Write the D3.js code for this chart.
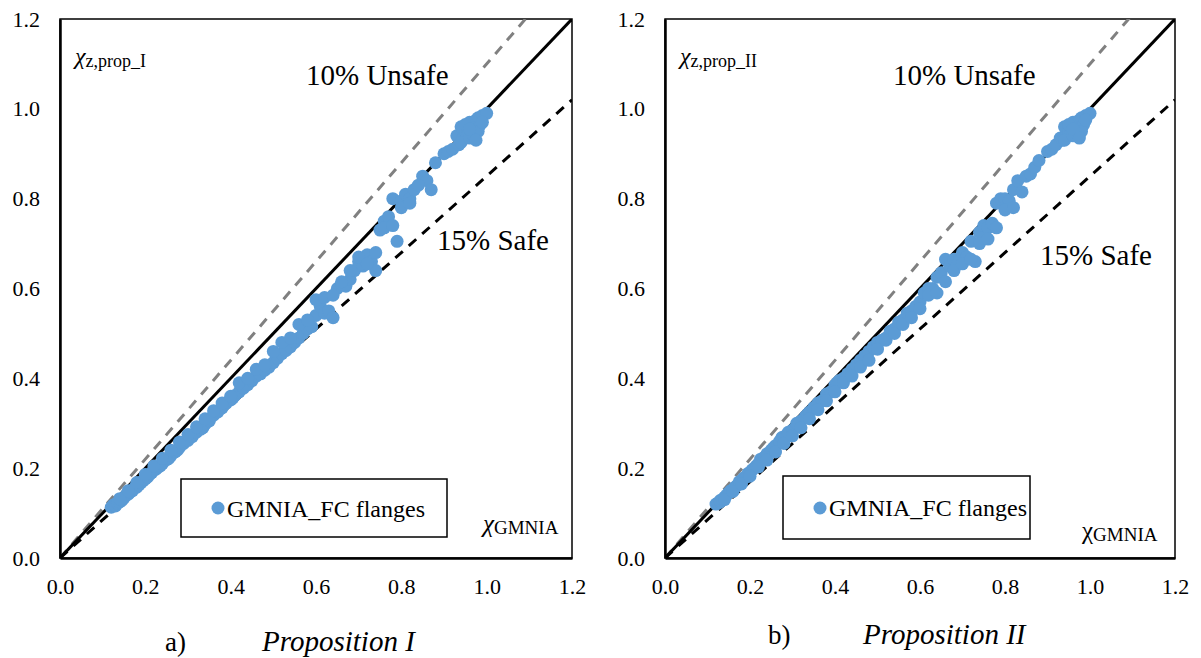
<!DOCTYPE html>
<html>
<head>
<meta charset="utf-8">
<script src="https://cdn.jsdelivr.net/npm/d3@7"></script>
<style>
  body { margin: 0; background: #fff; }
  text { font-family: "Liberation Serif", "Times New Roman", serif; fill: #000; }
</style>
</head>
<body>
<div id="chart"></div>
<script>
// chi_GMNIA values (shared by both panels)
var xGMNIA = [
  0.12,0.125,0.13,0.13,0.135,0.14,0.145,0.15,0.155,0.16,
  0.165,0.17,0.175,0.18,0.185,0.19,0.195,0.20,0.205,0.21,
  0.215,0.22,0.225,0.23,0.235,0.24,0.25,0.255,0.26,0.27,
  0.275,0.28,0.29,0.30,0.31,0.32,0.33,0.335,0.34,0.35,
  0.36,0.37,0.38,0.39,0.40,0.405,0.41,0.42,0.43,0.44,
  0.45,0.46,0.47,0.48,0.49,0.50,0.51,0.52,0.53,0.54,
  0.55,0.56,0.57,0.58,0.59,0.60,0.61,0.62,0.63,0.64,
  0.65,0.66,0.67,0.68,0.69,0.70,0.71,0.72,0.73,0.74,
  0.75,0.76,0.77,0.78,0.79,0.80,0.81,0.82,0.83,0.85,
  0.86,0.87,0.88,0.90,0.91,0.92,0.93,0.935,0.94,0.945,
  0.95,0.955,0.96,0.965,0.97,0.975,0.98,0.985,0.99,1.00,
  0.94,0.95,0.96,0.97,0.98,0.99,0.96,0.975,
  0.14,0.16,0.18,0.20,0.22,0.24,0.26,0.28,0.30,0.32,
  0.34,0.36,0.38,0.40,0.42,0.44,0.46,0.48,0.50,0.52,
  0.54,0.56,0.58,0.60,0.62,0.64,0.66,0.68,0.70,0.72,
  0.74,0.76,0.78,0.80,0.82,0.84
];

// chi_z,prop_I
var yPropI = [
  0.113,0.118,0.12,0.116,0.122,0.125,0.128,0.134,0.14,0.142,
  0.147,0.15,0.156,0.158,0.163,0.168,0.172,0.176,0.18,0.186,
  0.19,0.196,0.198,0.202,0.205,0.21,0.219,0.222,0.228,0.236,
  0.24,0.246,0.255,0.262,0.27,0.28,0.287,0.29,0.298,0.305,
  0.318,0.325,0.334,0.345,0.352,0.356,0.362,0.37,0.378,0.386,
  0.395,0.405,0.41,0.418,0.425,0.435,0.445,0.455,0.462,0.47,
  0.48,0.49,0.50,0.51,0.515,0.54,0.56,0.545,0.55,0.535,
  0.60,0.61,0.605,0.62,0.64,0.66,0.65,0.675,0.66,0.64,
  0.73,0.75,0.76,0.80,0.705,0.795,0.81,0.80,0.82,0.85,
  0.84,0.82,0.88,0.90,0.905,0.91,0.94,0.92,0.96,0.935,
  0.95,0.94,0.97,0.955,0.96,0.975,0.98,0.965,0.985,0.99,
  0.925,0.965,0.935,0.94,0.95,0.97,0.955,0.93,
  0.132,0.15,0.168,0.186,0.205,0.222,0.24,0.258,0.275,0.292,
  0.31,0.328,0.345,0.36,0.39,0.40,0.42,0.43,0.46,0.48,
  0.49,0.52,0.53,0.575,0.58,0.585,0.615,0.64,0.67,0.655,
  0.68,0.735,0.74,0.78,0.79,0.83
];

// chi_z,prop_II
var yPropII = [
  0.12,0.122,0.125,0.128,0.13,0.135,0.14,0.145,0.15,0.152,
  0.158,0.162,0.17,0.172,0.178,0.18,0.188,0.19,0.196,0.2,
  0.205,0.21,0.22,0.218,0.225,0.232,0.24,0.245,0.25,0.26,
  0.268,0.27,0.28,0.285,0.3,0.305,0.315,0.32,0.325,0.335,
  0.345,0.35,0.365,0.37,0.385,0.39,0.395,0.40,0.41,0.42,
  0.43,0.44,0.45,0.46,0.47,0.48,0.485,0.49,0.505,0.51,
  0.525,0.53,0.545,0.55,0.56,0.57,0.59,0.60,0.60,0.625,
  0.635,0.665,0.65,0.665,0.66,0.68,0.67,0.705,0.66,0.725,
  0.74,0.735,0.745,0.79,0.80,0.80,0.795,0.82,0.84,0.85,
  0.855,0.87,0.885,0.905,0.91,0.92,0.935,0.93,0.96,0.94,
  0.95,0.945,0.97,0.96,0.955,0.975,0.98,0.965,0.985,0.99,
  0.93,0.965,0.94,0.945,0.95,0.975,0.955,0.935,
  0.13,0.148,0.165,0.182,0.203,0.218,0.236,0.255,0.272,0.29,
  0.31,0.33,0.35,0.37,0.39,0.405,0.425,0.44,0.465,0.485,
  0.50,0.52,0.535,0.555,0.585,0.59,0.615,0.64,0.655,0.665,
  0.70,0.71,0.735,0.775,0.78,0.815
];

var ticks = [0, 0.2, 0.4, 0.6, 0.8, 1.0, 1.2];
var limitLines = [
  {k: 1.10, color: "#808080", dash: "10,8"},   // 10% unsafe
  {k: 1.00, color: "#000", dash: null},          // y = x
  {k: 0.85, color: "#000", dash: "10,8"}         // 15% safe
];

var W = 1201, H = 658;
var svg = d3.select("#chart").append("svg")
    .attr("width", W)
    .attr("height", H);

var panels = [
  {left: 60, right: 572, ys: yPropI, yLab: "z,prop_I", letter: "a)", title: "Proposition I",
   letterX: 165, titleX: 262, capY: 651, chiItalic: true, chiX: 483, chiY: 534,
   unsafe: [306, 85], safe: [437, 250], legend: [181, 479, 447, 537], legY: 517},
  {left: 665, right: 1175, ys: yPropII, yLab: "z,prop_II", letter: "b)", title: "Proposition II",
   letterX: 768, titleX: 863, capY: 644, chiItalic: false, chiX: 1082, chiY: 541,
   unsafe: [893, 85], safe: [1040, 265], legend: [783, 476, 1030, 539], legY: 516}
];

var plotTop = 19, plotBottom = 558;

panels.forEach(function(p, pi) {
  var x = d3.scaleLinear().domain([0, 1.2]).range([p.left, p.right]);
  var y = d3.scaleLinear().domain([0, 1.2]).range([plotBottom, plotTop]);

  var g = svg.append("g");

  g.append("clipPath").attr("id", "clip" + pi)
    .append("rect")
      .attr("x", p.left).attr("y", plotTop)
      .attr("width", p.right - p.left).attr("height", plotBottom - plotTop);

  // plot frame
  g.append("rect")
      .attr("x", p.left).attr("y", plotTop)
      .attr("width", p.right - p.left).attr("height", plotBottom - plotTop)
      .attr("fill", "none").attr("stroke", "#000").attr("stroke-width", 1.5);

  // limit lines
  g.append("g").attr("clip-path", "url(#clip" + pi + ")")
    .selectAll("line")
    .data(limitLines)
    .join("line")
      .attr("x1", x(0)).attr("y1", y(0))
      .attr("x2", x(1.2)).attr("y2", function(d) { return y(1.2 * d.k); })
      .attr("stroke", function(d) { return d.color; })
      .attr("stroke-width", 3)
      .attr("stroke-dasharray", function(d) { return d.dash; });

  // points
  g.selectAll("circle.pt")
    .data(xGMNIA)
    .join("circle")
      .attr("class", "pt")
      .attr("cx", function(d) { return x(d); })
      .attr("cy", function(d, i) { return y(p.ys[i]); })
      .attr("r", 6.5)
      .attr("fill", "#5B9BD5");

  // axes (labels only)
  var ax = g.append("g")
      .attr("transform", "translate(0," + plotBottom + ")")
      .call(d3.axisBottom(x).tickValues(ticks).tickFormat(d3.format(".1f")).tickSize(0).tickPadding(20));
  var ay = g.append("g")
      .attr("transform", "translate(" + p.left + ",0)")
      .call(d3.axisLeft(y).tickValues(ticks).tickFormat(d3.format(".1f")).tickSize(0).tickPadding(20));
  [ax, ay].forEach(function(a) {
    a.select(".domain").attr("stroke", "#000").attr("stroke-width", 2.5);
    a.selectAll("text").attr("font-family", "Liberation Serif").attr("font-size", 22).attr("fill", "#000");
  });

  // y label
  var yl = g.append("text").attr("x", p.left + 15).attr("y", 64).attr("font-size", 24);
  yl.append("tspan").attr("font-style", "italic").text("χ");
  yl.append("tspan").attr("font-size", 18).attr("dy", 3).text(p.yLab);

  // x label
  var xl = g.append("text").attr("x", p.chiX).attr("y", p.chiY - 2).attr("font-size", 25);
  xl.append("tspan").attr("font-style", p.chiItalic ? "italic" : "normal").text("χ");
  xl.append("tspan").attr("font-size", 19).attr("dy", 2).text("GMNIA");

  g.append("text").attr("x", p.unsafe[0]).attr("y", p.unsafe[1]).attr("font-size", 29).text("10% Unsafe");
  g.append("text").attr("x", p.safe[0]).attr("y", p.safe[1]).attr("font-size", 29).text("15% Safe");

  // legend
  var L = p.legend;
  g.append("rect")
      .attr("x", L[0]).attr("y", L[1])
      .attr("width", L[2] - L[0]).attr("height", L[3] - L[1])
      .attr("fill", "#fff").attr("stroke", "#000").attr("stroke-width", 1.5);
  g.append("circle").attr("cx", L[0] + 37).attr("cy", 508).attr("r", 6.5).attr("fill", "#5B9BD5");
  g.append("text").attr("x", L[0] + 46).attr("y", p.legY).attr("font-size", 24).text("GMNIA_FC flanges");

  // caption
  g.append("text").attr("x", p.letterX).attr("y", p.capY).attr("font-size", 27).text(p.letter);
  g.append("text").attr("x", p.titleX).attr("y", p.capY).attr("font-size", 29)
      .attr("font-style", "italic").text(p.title);
});
</script>
</body>
</html>
